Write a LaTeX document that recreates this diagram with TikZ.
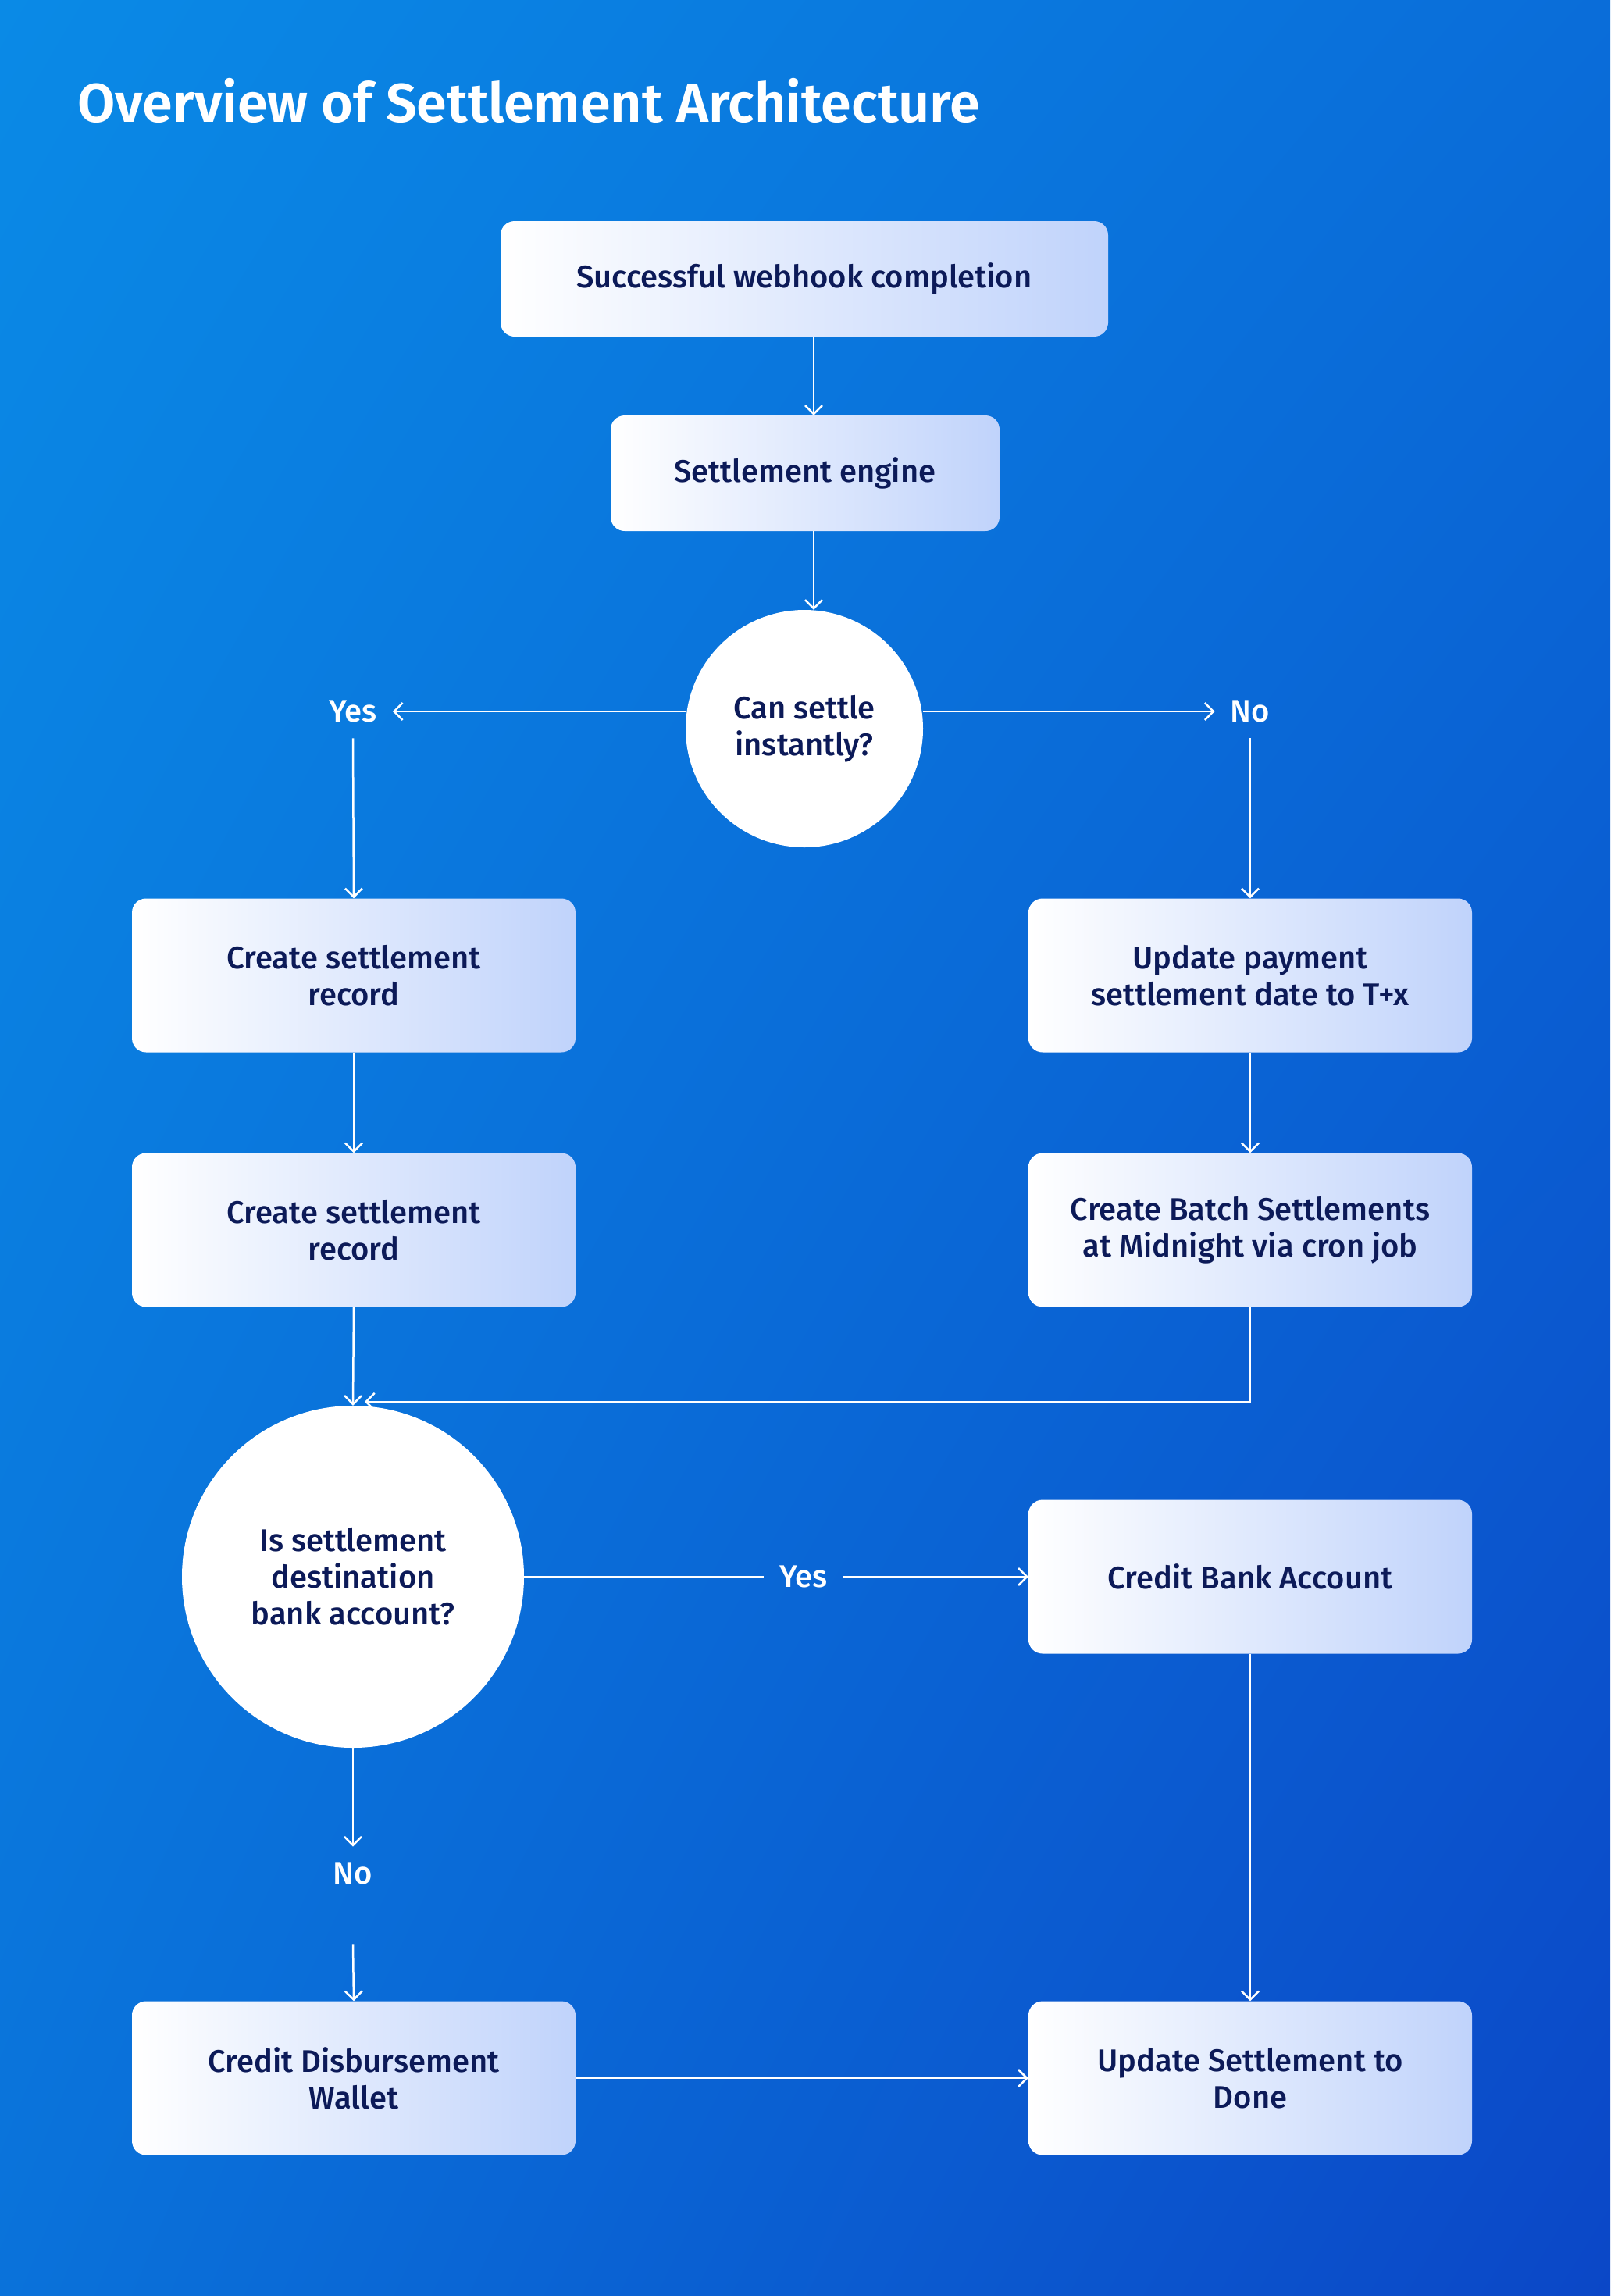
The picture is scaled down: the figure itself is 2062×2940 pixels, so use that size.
\documentclass[tikz,border=0pt]{standalone}
\usepackage{fontspec}
\setmainfont{Fira Sans}[UprightFont={* Medium}, BoldFont={* SemiBold}]
\usetikzlibrary{arrows.meta, shadings}
\definecolor{bgul}{HTML}{0A8AE6}
\definecolor{bgur}{HTML}{0A6DD9}
\definecolor{bgll}{HTML}{0A72DA}
\definecolor{bglr}{HTML}{0B47C7}
\definecolor{boxend}{HTML}{C0D3FB}
\definecolor{ink}{HTML}{0C1A58}
\newcommand{\boxfont}{\fontsize{40}{47}\selectfont}
\newcommand{\titlefont}{\fontsize{70}{80}\selectfont\bfseries}
\tikzset{
	proc/.style={rectangle, rounded corners=18pt, minimum width=568pt,
		minimum height=197pt, left color=white, right color=boxend,
		text=ink, align=center, font=\boxfont, inner sep=0pt},
	decide/.style={circle, fill=white, text=ink, align=center,
		font=\boxfont, inner sep=0pt},
	lbl/.style={text=white, font=\boxfont, inner sep=20pt},
	flow/.style={white, line width=2.5pt,
		-{Straight Barb[length=11pt, width=22pt, line width=2.5pt]}},
	link/.style={white, line width=2.5pt}
}
\begin{document}
\begin{tikzpicture}[x=1pt, y=-1pt]
	\useasboundingbox (0,0) rectangle (2062,2940);
	\shade[upper left=bgul, upper right=bgur, lower left=bgll, lower right=bglr]
		(0,0) rectangle (2062,2940);
	\node[anchor=base west, text=white, font=\titlefont, inner sep=0pt] (title)
		at (99,156) {Overview of Settlement Architecture};
	% Knoten
	\node[proc, minimum width=778pt, minimum height=148pt] (webhook) at (1030,357)
		{Successful webhook completion};
	\node[proc, minimum width=498pt, minimum height=148pt] (engine) at (1031,606)
		{Settlement engine};
	\node[decide, minimum size=304pt] (instant) at (1030,933)
		{Can settle\\instantly?};
	\node[lbl] (yes1) at (452,911) {Yes};
	\node[lbl] (no1) at (1601,911) {No};
	\node[proc] (record1) at (453,1249) {Create settlement\\record};
	\node[proc] (tplusx) at (1601,1249) {Update payment\\settlement date to T+x};
	\node[proc] (record2) at (453,1575) {Create settlement\\record};
	\node[proc] (batch) at (1601,1575) {Create Batch Settlements\\at Midnight via cron job};
	\node[decide, minimum size=438pt] (dest) at (452,2019)
		{Is settlement\\destination\\bank account?};
	\node[lbl] (yes2) at (1029,2019) {Yes};
	\node[proc] (bank) at (1601,2019) {Credit Bank Account};
	\node[lbl] (no2) at (452,2399) {No};
	\node[proc] (wallet) at (453,2661) {Credit Disbursement\\Wallet};
	\node[proc] (done) at (1601,2661) {Update Settlement to\\Done};
	\coordinate (join) at ([xshift=15pt, yshift=5pt]dest.north);
	% Verbindungen
	\draw[flow] ([xshift=12pt]webhook.south) -- ([xshift=11pt]engine.north);
	\draw[flow] ([xshift=11pt]engine.south) -- ([xshift=12pt]instant.north);
	\draw[flow] (yes1 -| instant.west) -- (yes1.east);
	\draw[flow] (no1 -| instant.east) -- (no1.west);
	\draw[flow] (yes1.south) -- (record1.north);
	\draw[flow] (no1.south) -- (tplusx.north);
	\draw[flow] (record1) -- (record2);
	\draw[flow] (tplusx) -- (batch);
	\draw[flow] (record2.south) -- (dest.north);
	\draw[flow] (batch.south) |- (join);
	\draw[link] (dest.east) -- (yes2.west);
	\draw[flow] (yes2.east) -- (bank.west);
	\draw[flow] (dest.south) -- (no2.north);
	\draw[flow] ([yshift=-56pt]no2.south) -- (wallet.north);
	\draw[flow] (bank) -- (done);
	\draw[flow] (wallet) -- (done);
\end{tikzpicture}
\end{document}
